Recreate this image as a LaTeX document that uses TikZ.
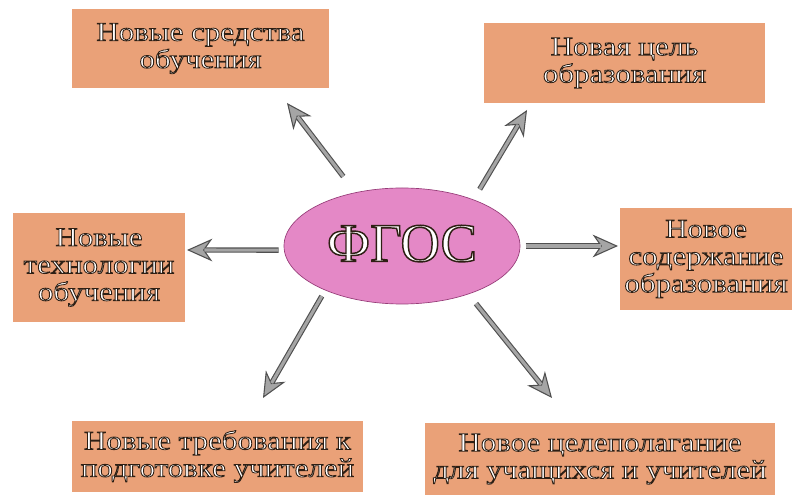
\documentclass[tikz,border=0pt]{standalone}
\usepackage{graphicx}
\usepackage{fontspec}
\setmainfont{Liberation Serif}
\usetikzlibrary{arrows.meta,shapes.geometric}
\definecolor{boxfill}{RGB}{234,161,120}
\definecolor{ellfill}{RGB}{228,136,198}
\definecolor{ellline}{RGB}{150,60,120}
\definecolor{arrgray}{RGB}{165,165,165}
\definecolor{arrdark}{RGB}{80,80,80}
% white letters with a dark outline (PDF text render mode 2: fill and stroke)
\newcommand\outl[2]{\special{pdf:literal direct 2 Tr #1 w 0.18 0.12 0.08 RG}#2\special{pdf:literal direct 0 Tr}}
\newcommand\wt[2][1.16]{\scalebox{#1}[1]{\outl{0.6}{#2}}}
\newcommand\myarrow[3]{%
  \draw[fatarr,shorten <=#3] (#1) -- (#2);
  \draw[fatin,shorten <=#3] (#1) -- (#2);}
\tikzset{
  boxnode/.style={rectangle, fill=boxfill, inner sep=0pt, align=center,
    text=white, font=\fontsize{20}{20.5}\selectfont},
  ellnode/.style={ellipse, fill=ellfill, draw=ellline, line width=0.5pt,
    inner sep=0pt, minimum width=177pt, minimum height=87pt, text=white,
    font=\fontsize{41}{44}\selectfont},
  fatarr/.style={line width=4pt, draw=arrdark,
    -{Stealth[length=19pt,width=17pt,inset=6pt,fill=arrgray,line width=0.8pt]}},
  fatin/.style={line width=2.3pt, draw=arrgray, shorten >=13pt}
}
\begin{document}
\begin{tikzpicture}[x=0.75pt,y=-0.75pt]
\useasboundingbox (0,0) rectangle (794,495);
\fill[white] (0,0) rectangle (794,495);

\node[ellnode] (fgos) at (402,246) {\raisebox{4pt}{\outl{1.1}{ФГОС}}};

\node[boxnode, minimum width=192.75pt, minimum height=59.25pt] (tl) at (200.5,48.5)
  {\wt{Новые средства}\\\wt{обучения}};
\node[boxnode, minimum width=210.75pt, minimum height=60pt] (tr) at (624.5,63)
  {\wt{Новая цель}\\\wt{образования}};
\node[boxnode, minimum width=129pt, minimum height=81.75pt] (lf) at (99,267.5)
  {\wt{Новые}\\\wt{технологии}\\\wt{обучения}};
\node[boxnode, minimum width=129pt, minimum height=76.5pt] (rt) at (706,259)
  {\wt{Новое}\\\wt{содержание}\\\wt{образования}};
\node[boxnode, minimum width=218.25pt, minimum height=53.25pt] (bl) at (217.5,456.5)
  {\wt{Новые требования к}\\\wt{подготовке учителей}};
\node[boxnode, minimum width=262.5pt, minimum height=54pt] (br) at (600,459)
  {\wt{Новое целеполагание}\\\wt{для учащихся и учителей}};

\coordinate (tlE) at (287,103);
\coordinate (trE) at (527,110);
\coordinate (lfE) at (187,250);
\coordinate (rtE) at (618,246);
\coordinate (blE) at (263,398);
\coordinate (brE) at (552,398);

\myarrow{fgos.131}{tlE}{15pt}
\myarrow{fgos.33}{trE}{9pt}
\myarrow{fgos.182}{lfE}{4pt}
\myarrow{fgos.0}{rtE}{4pt}
\myarrow{fgos.210}{blE}{5pt}
\myarrow{fgos.324}{brE}{9pt}
\end{tikzpicture}
\end{document}
